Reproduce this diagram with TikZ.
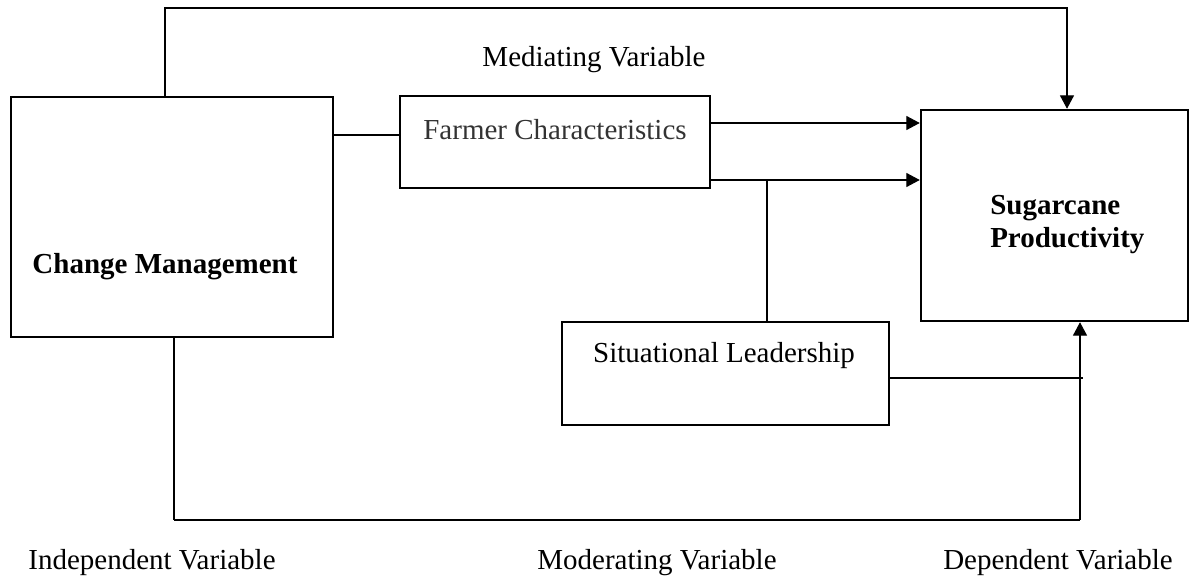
\documentclass[tikz,border=0pt]{standalone}
\usepackage{fontspec}
\setmainfont{Liberation Serif}
\usetikzlibrary{arrows.meta}
\tikzset{
  box/.style={draw=black, line width=1.9pt, rectangle, inner sep=0pt},
  conn/.style={draw=black, line width=0.8pt},
  thickconn/.style={draw=black, line width=1.5pt},
  arr/.style={conn, -{Triangle[length=10pt,width=10.5pt]}},
  lbl/.style={font=\fontsize{21.75}{26}\selectfont, inner sep=0pt, anchor=base},
  blbl/.style={lbl, font=\fontsize{21.75}{26}\selectfont\bfseries},
}
\begin{document}
\begin{tikzpicture}[x=0.75pt, y=-0.75pt]
\useasboundingbox (0,0) rectangle (1190,577);
% boxes
\node[box, minimum width=322*0.75pt, minimum height=240*0.75pt] (cm) at (172,217) {};
\node[box, minimum width=310*0.75pt, minimum height=92*0.75pt] (fc) at (555,142) {};
\node[box, minimum width=327*0.75pt, minimum height=103*0.75pt] (sl) at (725.5,373.5) {};
\node[box, minimum width=267*0.75pt, minimum height=211*0.75pt] (sp) at (1054.5,215.5) {};
% texts
\node[blbl] (cmt) at (165,274) {Change Management};
\node[lbl, text=black!80] (fct) at (555,140) {Farmer Characteristics};
\node[lbl] (slt) at (724,363) {Situational Leadership};
\node[blbl, anchor=base west] (spt1) at (990,215) {Sugarcane};
\node[blbl, anchor=base west] (spt2) at (990,248) {Productivity};
\node[lbl] (med) at (594,67) {Mediating Variable};
\node[lbl] (ind) at (152,569) {Independent Variable};
\node[lbl] (mod) at (657,569) {Moderating Variable};
\node[lbl] (dep) at (1058,569) {Dependent Variable};
% connectors
\coordinate (topL) at (165,8);
\coordinate (topR) at (1067,8);
\draw[arr] (cm.north -| topL) -- (topL) -- (topR) -- (topR |- sp.north);
\draw[thickconn] (cm.east |- 0,135) -- (fc.west |- 0,135);
\draw[arr] (fc.east |- 0,123) -- (sp.west |- 0,123);
\draw[arr] (fc.east |- 0,180) -- (sp.west |- 0,180);
\coordinate (vj) at (767,180);
\draw[conn] (vj) -- (vj |- sl.north);
\coordinate (slr) at (1083,378);
\draw[conn] (sl.east |- slr) -- (slr);
\coordinate (botL) at (174,520);
\coordinate (botR) at (1080,520);
\draw[conn] (cm.south -| botL) -- (botL);
\draw[thickconn] (botL) -- (botR);
\draw[arr] (botR) -- (botR |- sp.south);
\end{tikzpicture}
\end{document}
